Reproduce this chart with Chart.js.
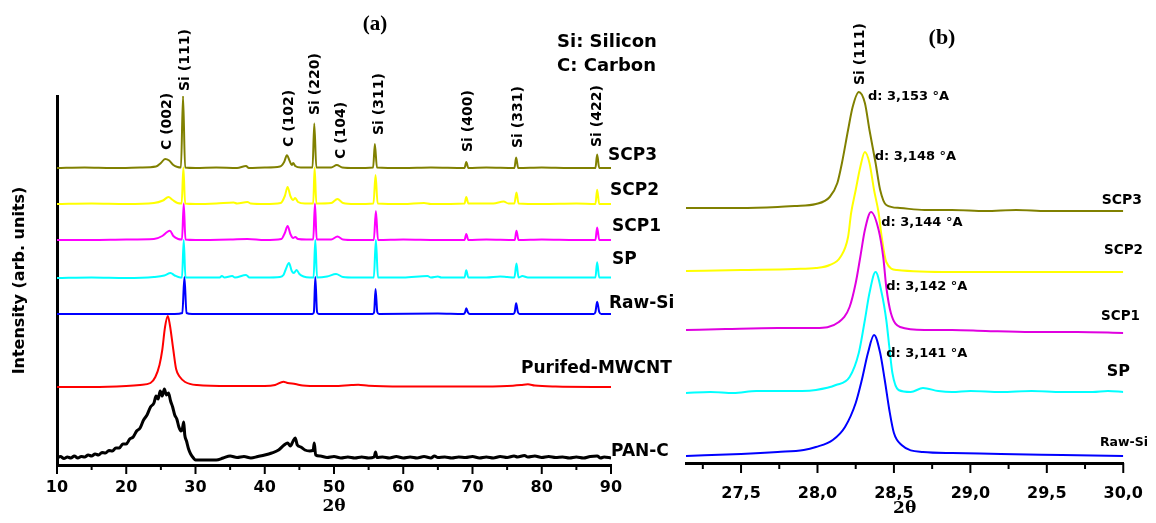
<!DOCTYPE html>
<html>
<head>
<meta charset="utf-8">
<script src="https://cdn.jsdelivr.net/npm/chart.js@4.4.0/dist/chart.umd.min.js"></script>
<style>
html,body{margin:0;padding:0;background:#fff;}
#wrap{position:relative;width:1156px;height:523px;overflow:hidden;background:#fff;}
#xrdA{position:absolute;left:0;top:0;}
#xrdB{position:absolute;left:680px;top:0;}
</style>
</head>
<body>
<div id="wrap">
<canvas id="xrdA" width="680" height="523"></canvas>
<canvas id="xrdB" width="476" height="523"></canvas>
</div>
<script>
// ---------- panel (a): full patterns, [2theta, intensity above own baseline] ----------
const scp3 = [[10,0],[14,0.5],[18,0],[22,0.5],[24.3,1.5],[25.0,5],[25.6,9],[26.2,7.5],[26.8,3],[27.4,1],[27.9,0.5],[28.2,72],[28.5,0.5],[30,0],[33,0.5],[36,0],[37.3,2],[37.7,0],[40,0.5],[42.2,1.5],[42.8,6],[43.2,12.7],[43.6,7],[43.9,3],[44.1,5],[44.4,2],[45.2,0.5],[46.9,0.5],[47.15,44.4],[47.45,0.5],[49.6,0.5],[50.4,3],[51.2,0.5],[53,0],[55.65,0.5],[55.9,24],[56.2,0.5],[60,0],[64,0.5],[68.85,0],[69.1,6],[69.4,0],[72,0.5],[76.05,0],[76.3,10.4],[76.6,0],[80,0.5],[84,0],[87.75,0],[88.0,13.4],[88.3,0],[90,0]];
const scp2 = [[10,0],[15,0.5],[20,0],[24,1],[25.3,3.5],[26.1,7],[26.7,4],[27.4,1],[28.0,0.5],[28.25,36.5],[28.5,0.5],[30,0],[33,0.5],[35.5,1.5],[36,0.5],[37.5,2],[38,0.5],[40,0],[42.3,1],[42.9,8],[43.3,17],[43.7,8],[44.1,4],[44.4,6],[44.8,2],[45.8,0.5],[47.0,0.5],[47.2,36.5],[47.45,0.5],[49.6,1],[50.5,5],[51.3,1],[53,0],[55.7,0.5],[56.0,29],[56.3,0.5],[60,0],[63,1],[64,0],[68.85,0.5],[69.1,7],[69.4,0.5],[73,0.5],[74.5,2.5],[75.2,0.5],[76.05,0.5],[76.35,11.6],[76.65,0.5],[80,0],[85,0.5],[87.75,0],[88.0,14.3],[88.3,0],[90,0]];
const scp1 = [[10,0],[15,0],[20,0.5],[24,1],[25.2,4],[25.9,8],[26.3,9.3],[26.8,4],[27.5,1],[28.05,0.5],[28.3,36.5],[28.55,0.5],[30,0],[35,0.5],[37.5,1],[40,0],[42.4,1],[42.9,7],[43.3,14],[43.7,6],[44.1,2],[44.4,3],[44.8,1],[46,0.5],[47.0,0.5],[47.25,36.5],[47.5,0.5],[49.6,0.5],[50.5,3.5],[51.3,0.5],[53,0],[55.75,0],[56.05,29],[56.35,0],[60,0.5],[65,0],[68.85,0],[69.1,6],[69.4,0],[72,0.5],[76.1,0],[76.35,9.3],[76.65,0],[80,0.5],[85,0],[87.75,0],[88.0,12.6],[88.3,0],[90,0]];
const sp = [[10,0],[15,0.5],[20,0],[24,1],[25.5,2.5],[26.4,5],[27,2.5],[27.8,0.5],[28.05,0.5],[28.3,38],[28.55,0.5],[30,0.5],[33.5,0.5],[33.8,2],[34.2,0.5],[35.3,2],[35.7,0.5],[37.3,3],[37.8,0.5],[40,0.5],[42.2,1],[42.7,3],[43.0,8],[43.5,15],[43.9,7],[44.2,5],[44.6,8],[45.0,4],[45.6,1.5],[46.5,0.5],[47.05,0.5],[47.3,38],[47.55,0.5],[49.0,1.5],[50.3,4],[51.3,1],[53,0.5],[55.75,0.5],[56.05,38],[56.35,0.5],[60,0.5],[63.5,2],[64,0.5],[65,1.5],[65.5,0.5],[68.85,0.5],[69.1,7.7],[69.4,0.5],[72,0.5],[74,1.5],[75,1],[76.05,0.5],[76.35,14.4],[76.65,0.5],[77.2,2],[78,0.5],[80,0.5],[84,0.5],[87.75,0.5],[88.0,15.7],[88.3,0.5],[90,0.5]];
const rawSi = [[10,0],[20,0],[27.0,0],[28.1,1],[28.4,37],[28.7,1],[29.5,0],[40,0],[46.9,0],[47.1,2],[47.3,37],[47.55,2],[47.8,0],[55.6,0],[55.8,2],[56.0,25],[56.25,2],[56.5,0],[65,0.5],[68.7,0],[68.95,2],[69.1,5.7],[69.35,1.5],[69.6,0],[75.9,0],[76.1,2],[76.3,10.7],[76.55,2],[76.8,0],[87.5,0],[87.75,2],[88.0,12.3],[88.3,2],[88.6,0],[90,0]];
const mwcnt = [[10,0],[15,0],[20,1],[22,2],[23.5,4],[24.2,10],[24.8,22],[25.2,37],[25.6,60],[26.0,71],[26.3,62],[26.8,37],[27.2,18],[27.75,10],[28.5,5],[30.2,2],[35,1],[40,1],[41.5,2],[42.7,5.3],[43.3,4],[44.4,3],[45.5,1.5],[48,1],[50,1],[52.5,2],[53.5,2.3],[55,1.2],[60,0.5],[70,0.5],[75,1],[77,2],[78,2.7],[79,1.5],[82,0.5],[90,0]];
const panC = [[10,1],[10.5,2.5],[11,0.5],[11.5,2],[12,1],[12.5,3],[13,1],[13.5,2.5],[14,2],[14.5,4],[15,3],[15.5,5],[16,4],[16.5,6.5],[17,6],[17.5,8.5],[18,8],[18.5,11],[19,11],[19.5,15],[20,15],[20.5,20],[21,22],[21.5,28],[22,31],[22.5,39],[23,44],[23.5,52],[24,56],[24.3,63],[24.6,60],[24.9,68],[25.2,63],[25.5,70],[25.8,64],[26.1,66],[26.4,58],[26.7,52],[27.0,44],[27.3,40],[27.6,32],[27.9,28],[28.1,30],[28.3,37],[28.45,24],[28.7,18],[29.0,10],[29.3,5],[29.7,1],[30,-1],[33,-1],[34,1],[35,3],[36,1.5],[37,2.5],[38,1],[39,2.5],[40,4],[41,6],[42,9],[42.8,14],[43.3,16],[43.7,13],[44.1,18],[44.4,21],[44.7,14],[45.2,12],[45.8,9],[46.5,8],[47.0,9],[47.15,16],[47.35,4],[48,3],[49,1.5],[50,2.5],[51,1],[52,2],[53,1],[54,2],[55,1],[55.8,2],[56.0,7],[56.2,1.5],[57,2],[58,1],[59,2.5],[60,1],[61,2],[62,1],[63,2.5],[64,1],[64.5,3],[65,1.5],[66,2],[67,1],[68,2],[69,1.5],[70,2.5],[71,1],[72,2],[73,1],[74,2.5],[75,1.5],[76,3],[76.5,2],[77.5,3.5],[78,2],[79,3],[80,1.5],[81,2.5],[82,1.5],[83,2],[84,1],[85,2],[86,1],[87,2.5],[88,3],[88.5,1],[89,2],[90,1]];

const seriesA = [scp3, scp2, scp1, sp, rawSi, mwcnt, panC];
const namesA = ["SCP3", "SCP2", "SCP1", "SP", "Raw-Si", "Purifed-MWCNT", "PAN-C"];
const offsetsA = [297, 261, 225, 187, 151, 78, 6];
const colorsA = ["#808000", "#ffff00", "#ff00ff", "#00ffff", "#0000ff", "#ff0000", "#000000"];

const ticksA = [10, 20, 30, 40, 50, 60, 70, 80, 90];
const minorA = [15, 25, 35, 45, 55, 65, 75, 85];
const peakNames = ["C (002)", "Si (111)", "C (102)", "Si (220)", "C (104)", "Si (311)", "Si (400)", "Si (331)", "Si (422)"];
const peakPos = [25.9, 28.5, 43.6, 47.3, 51.0, 56.5, 69.35, 76.6, 88.0];

// ---------- panel (b): Si (111) zoom, [2theta, intensity] ----------
const scp3B = [[27.14,255],[27.30,255],[27.49,255],[27.74,256],[27.85,257],[27.99,259],[28.08,266],[28.13,280],[28.16,300],[28.20,333],[28.23,356],[28.27,371],[28.31,360],[28.34,333],[28.38,300],[28.41,273],[28.45,258],[28.54,255],[28.70,253],[28.88,253],[29.10,252],[29.30,253],[29.50,252],[29.75,252],[30.0,252]];
const scp2B = [[27.14,192],[27.50,193],[27.85,194],[27.99,195],[28.08,198],[28.15,206],[28.20,226],[28.22,250],[28.25,273],[28.28,296],[28.31,311],[28.34,300],[28.37,273],[28.40,250],[28.42,226],[28.45,201],[28.52,193],[28.88,191],[29.30,191],[29.70,191],[30.0,191]];
const scp1B = [[27.14,133],[27.40,134],[27.74,135],[27.99,135],[28.14,141],[28.21,156],[28.25,180],[28.28,206],[28.31,233],[28.35,251],[28.40,233],[28.43,206],[28.45,176],[28.48,150],[28.54,136],[28.70,133],[28.88,133],[29.10,132],[29.40,131],[29.70,131],[30.0,130]];
const spB = [[27.14,70],[27.30,71],[27.45,70],[27.60,72],[27.74,72],[27.90,72],[27.99,73],[28.12,78],[28.21,86],[28.27,110],[28.31,143],[28.34,170],[28.38,191],[28.42,170],[28.45,143],[28.47,116],[28.49,90],[28.53,73],[28.61,71],[28.69,75],[28.79,72],[28.88,71],[29.0,72],[29.2,71],[29.4,72],[29.6,71],[29.8,71],[29.9,72],[30.0,71]];
const rawSiB = [[27.14,7],[27.50,9],[27.74,11],[27.91,13],[27.99,16],[28.10,23],[28.18,36],[28.25,60],[28.29,83],[28.33,110],[28.37,128],[28.41,110],[28.44,83],[28.47,53],[28.50,30],[28.55,18],[28.69,11],[28.88,10],[29.20,9],[29.60,8],[30.0,7]];

const seriesB = [rawSiB, spB, scp1B, scp2B, scp3B];
const namesB = ["Raw-Si", "SP", "SCP1", "SCP2", "SCP3"];
const colorsB = ["#0000ff", "#00ffff", "#e000e0", "#ffff00", "#808000"];

const ticksB = [27.5, 28.0, 28.5, 29.0, 29.5, 30.0];
const minorB = [27.25, 27.75, 28.25, 28.75, 29.25, 29.75];
const dNames = ["d: 3,153 °A", "d: 3,148 °A", "d: 3,144 °A", "d: 3,142 °A", "d: 3,141 °A"];
const dPos = [28.33, 28.375, 28.417, 28.449, 28.449];
const dLevel = [366, 306, 240, 176, 109];

Chart.defaults.font.family = "'DejaVu Sans', sans-serif";
Chart.defaults.color = "#000";

function tickMarks(chart, major, minor, majLen, minLen) {
    const {ctx, chartArea, scales} = chart;
    ctx.save();
    ctx.strokeStyle = "#000";
    ctx.lineWidth = 2;
    const mark = (v, len) => {
        const px = scales.x.getPixelForValue(v);
        ctx.beginPath();
        ctx.moveTo(px, chartArea.bottom);
        ctx.lineTo(px, chartArea.bottom + len);
        ctx.stroke();
    };
    major.forEach(v => mark(v, majLen));
    minor.forEach(v => mark(v, minLen));
    ctx.restore();
}

function vText(ctx, text, x, yBottom) {
    ctx.save();
    ctx.translate(x, yBottom);
    ctx.rotate(-Math.PI / 2);
    ctx.textAlign = "left";
    ctx.textBaseline = "middle";
    ctx.fillText(text, 0, 0);
    ctx.restore();
}

// labels for panel (a)
const labelsA = {
    id: "labelsA",
    afterDraw(chart) {
        const {ctx, scales} = chart;
        tickMarks(chart, ticksA, minorA, 9, 5);
        ctx.save();
        ctx.fillStyle = "#000";
        ctx.font = "bold 14px 'DejaVu Sans'";
        const bottoms = [150, 91, 147, 115, 159, 135, 152, 148, 147];
        peakNames.forEach((t, i) => vText(ctx, t, scales.x.getPixelForValue(peakPos[i]), bottoms[i]));

        ctx.font = "bold 17px 'DejaVu Sans'";
        ctx.textAlign = "left";
        ctx.textBaseline = "middle";
        const spots = [[608, 156], [610, 191], [612, 227], [612, 260], [609, 304], [521, 369], [611, 452]];
        namesA.forEach((t, i) => ctx.fillText(t, spots[i][0], spots[i][1]));

        ctx.font = "bold 18px 'DejaVu Sans'";
        ctx.fillText("Si: Silicon", 557, 42);
        ctx.fillText("C: Carbon", 557, 66);

        ctx.font = "bold 21px 'Liberation Serif'";
        ctx.textAlign = "center";
        ctx.fillText("(a)", 375, 25);
        ctx.restore();
    }
};

// labels for panel (b)
const labelsB = {
    id: "labelsB",
    afterDraw(chart) {
        const {ctx, scales} = chart;
        tickMarks(chart, ticksB, minorB, 10, 6);
        ctx.save();
        ctx.fillStyle = "#000";
        ctx.font = "bold 14px 'DejaVu Sans'";
        vText(ctx, "Si (111)", scales.x.getPixelForValue(28.28), 85);

        ctx.font = "bold 13px 'DejaVu Sans'";
        ctx.textAlign = "left";
        ctx.textBaseline = "middle";
        dNames.forEach((t, i) => ctx.fillText(t, scales.x.getPixelForValue(dPos[i]), scales.y.getPixelForValue(dLevel[i])));

        ctx.textAlign = "right";
        const rs = [[12.5, 468, 443], [16, 450, 372], [13.5, 460, 316], [13.5, 463, 250], [14, 462, 200]];
        namesB.forEach((t, i) => {
            ctx.font = "bold " + rs[i][0] + "px 'DejaVu Sans'";
            ctx.fillText(t, rs[i][1], rs[i][2]);
        });

        ctx.font = "bold 22px 'Liberation Serif'";
        ctx.textAlign = "center";
        ctx.fillText("(b)", 262, 38);
        ctx.restore();
    }
};

new Chart(document.getElementById("xrdA").getContext("2d"), {
    type: "line",
    data: {
        datasets: seriesA.map((s, i) => ({
            label: namesA[i],
            data: s.map(p => ({x: p[0], y: p[1] + offsetsA[i]})),
            borderColor: colorsA[i],
            borderWidth: i === 6 ? 3 : 2,
            pointRadius: 0,
            fill: false,
            cubicInterpolationMode: "monotone"
        }))
    },
    options: {
        responsive: false,
        animation: false,
        layout: {padding: {left: 0, top: 96, right: 69, bottom: 0}},
        plugins: {legend: {display: false}, tooltip: {enabled: false}},
        scales: {
            x: {
                type: "linear", min: 10, max: 90,
                grid: {display: false},
                border: {display: true, color: "#000", width: 3},
                afterBuildTicks: s => { s.ticks = ticksA.map(v => ({value: v})); },
                afterFit: s => { s.height = 58; },
                ticks: {autoSkip: false, maxRotation: 0, padding: 5, color: "#000",
                        font: {size: 16, weight: "bold"}},
                title: {display: true, text: "2θ", color: "#000", padding: {top: 0, bottom: 6},
                        font: {family: "'DejaVu Serif'", size: 17, weight: "bold"}}
            },
            y: {
                min: 0, max: 369,
                grid: {display: false},
                border: {display: true, color: "#000", width: 3},
                ticks: {display: false},
                afterFit: s => { s.width = 57; },
                title: {display: true, text: "Intensity (arb. units)", color: "#000",
                        padding: {top: 10, bottom: 0}, font: {size: 16, weight: "bold"}}
            }
        }
    },
    plugins: [labelsA]
});

new Chart(document.getElementById("xrdB").getContext("2d"), {
    type: "line",
    data: {
        datasets: seriesB.map((s, i) => ({
            label: namesB[i],
            data: s.map(p => ({x: p[0], y: p[1]})),
            borderColor: colorsB[i],
            borderWidth: 2,
            pointRadius: 0,
            fill: false,
            cubicInterpolationMode: "monotone"
        }))
    },
    options: {
        responsive: false,
        animation: false,
        layout: {padding: {left: 6, top: 80, right: 20, bottom: 0}},
        plugins: {legend: {display: false}, tooltip: {enabled: false}},
        scales: {
            x: {
                type: "linear", min: 27.14, max: 30.0,
                grid: {display: false},
                border: {display: true, color: "#000", width: 3},
                afterBuildTicks: s => { s.ticks = ticksB.map(v => ({value: v})); },
                afterFit: s => { s.height = 60; },
                ticks: {autoSkip: false, maxRotation: 0, padding: 13, color: "#000",
                        font: {size: 16, weight: "bold"},
                        callback: v => v.toFixed(1).replace(".", ",")},
                title: {display: true, text: "2θ", color: "#000", padding: {top: 0, bottom: 4},
                        font: {family: "'DejaVu Serif'", size: 17, weight: "bold"}}
            },
            y: {min: 0, max: 383, display: false}
        }
    },
    plugins: [labelsB]
});
</script>
</body>
</html>
